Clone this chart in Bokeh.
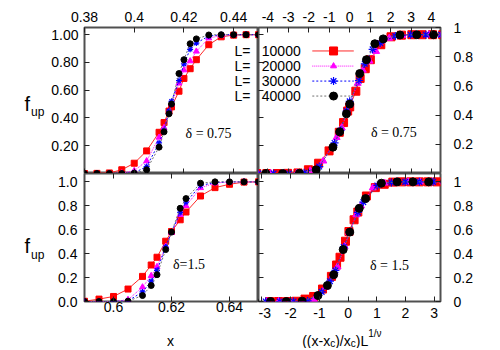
from bokeh.plotting import figure
from bokeh.models import Range1d, LinearAxis, FixedTicker, NumeralTickFormatter, Label
from bokeh.layouts import column, row
from bokeh.embed import file_html
from bokeh.resources import INLINE

# ---------------- data ----------------
sizes = ["10000", "20000", "30000", "40000"]

# delta = 0.75
top_x = [0.365, 0.37, 0.375, 0.38, 0.385, 0.39, 0.395, 0.40, 0.405, 0.41, 0.412, 0.414, 0.415,
         0.418, 0.42, 0.4225, 0.425, 0.43, 0.435, 0.44, 0.445, 0.45, 0.455, 0.46, 0.465]
top_f_10000 = [0, 0, 0, 0, 0.001, 0.004, 0.027, 0.074, 0.163, 0.297, 0.367, 0.45, 0.48,
               0.593, 0.685, 0.755, 0.82, 0.928, 0.985, 0.997, 1, 1, 1, 1, 1]
top_f_20000 = [0, 0, 0, 0, 0, 0, 0.003, 0.02, 0.09, 0.26, 0.33, 0.44, 0.50,
               0.65, 0.745, 0.81, 0.88, 0.975, 0.995, 1, 1, 1, 1, 1, 1]
top_f_30000 = [0, 0, 0, 0, 0, 0, 0, 0.005, 0.05, 0.22, 0.31, 0.45, 0.52,
               0.67, 0.79, 0.895, 0.94, 0.99, 1, 1, 1, 1, 1, 1, 1]
top_f_40000 = [0, 0, 0, 0, 0, 0, 0, 0.002, 0.027, 0.19, 0.30, 0.43, 0.50,
               0.72, 0.82, 0.935, 0.97, 0.998, 1, 1, 1, 1, 1, 1, 1]
top_s_10000 = [-5.06, -4.55, -4.05, -3.54, -3.04, -2.53, -2.02, -1.52, -1.01, -0.51, -0.30, -0.10, 0.0,
               0.30, 0.51, 0.76, 1.01, 1.52, 2.02, 2.53, 3.04, 3.54, 4.05, 4.55, 5.06]
top_s_20000 = [-6.45, -5.80, -5.16, -4.51, -3.87, -3.22, -2.58, -1.93, -1.29, -0.64, -0.39, -0.13, 0.0,
               0.39, 0.64, 0.97, 1.29, 1.93, 2.58, 3.22, 3.87, 4.51, 5.16, 5.80, 6.45]
top_s_30000 = [-7.45, -6.70, -5.96, -5.21, -4.47, -3.72, -2.98, -2.23, -1.49, -0.74, -0.45, -0.15, 0.0,
               0.45, 0.74, 1.12, 1.49, 2.23, 2.98, 3.72, 4.47, 5.21, 5.96, 6.70, 7.45]
top_s_40000 = [-8.20, -7.38, -6.56, -5.74, -4.92, -4.10, -3.28, -2.46, -1.64, -0.82, -0.49, -0.16, 0.0,
               0.49, 0.82, 1.23, 1.64, 2.46, 3.28, 4.10, 4.92, 5.74, 6.56, 7.38, 8.20]

# delta = 1.5
bot_x = [0.575, 0.58, 0.585, 0.59, 0.595, 0.60, 0.605, 0.61, 0.613, 0.615, 0.618, 0.62,
         0.623, 0.625, 0.63, 0.635, 0.64, 0.645, 0.65, 0.655, 0.66, 0.665, 0.67]
bot_f_10000 = [0, 0, 0, 0.002, 0.02, 0.042, 0.104, 0.21, 0.305, 0.37, 0.504, 0.585,
               0.683, 0.748, 0.882, 0.952, 0.98, 0.998, 1, 1, 1, 1, 1]
bot_f_20000 = [0, 0, 0, 0, 0, 0, 0.015, 0.12, 0.215, 0.29, 0.46, 0.575,
               0.725, 0.80, 0.95, 0.99, 1, 1, 1, 1, 1, 1, 1]
bot_f_30000 = [0, 0, 0, 0, 0, 0, 0.005, 0.08, 0.17, 0.26, 0.455, 0.58,
               0.745, 0.83, 0.97, 0.995, 1, 1, 1, 1, 1, 1, 1]
bot_f_40000 = [0, 0, 0, 0, 0, 0, 0.003, 0.05, 0.134, 0.224, 0.434, 0.58,
               0.779, 0.86, 0.989, 1, 1, 1, 1, 1, 1, 1, 1]
bot_s_10000 = [-2.73, -2.42, -2.11, -1.81, -1.50, -1.20, -0.89, -0.58, -0.40, -0.28, -0.09, 0.03,
               0.21, 0.34, 0.64, 0.95, 1.26, 1.56, 1.87, 2.18, 2.48, 2.79, 3.10]
bot_s_20000 = [-3.65, -3.24, -2.83, -2.42, -2.01, -1.60, -1.19, -0.78, -0.53, -0.37, -0.12, 0.04,
               0.29, 0.45, 0.86, 1.27, 1.68, 2.09, 2.50, 2.91, 3.32, 3.73, 4.14]
bot_s_30000 = [-4.33, -3.84, -3.35, -2.87, -2.38, -1.90, -1.41, -0.92, -0.63, -0.44, -0.15, 0.05,
               0.34, 0.53, 1.02, 1.51, 1.99, 2.48, 2.96, 3.45, 3.94, 4.42, 4.91]
bot_s_40000 = [-4.90, -4.35, -3.80, -3.25, -2.70, -2.15, -1.60, -1.05, -0.72, -0.50, -0.17, 0.06,
               0.39, 0.61, 1.16, 1.71, 2.26, 2.81, 3.36, 3.91, 4.46, 5.01, 5.56]

top_x_ticks = [0.38, 0.40, 0.42, 0.44]
bot_x_ticks = [0.60, 0.62, 0.64]
top_s_ticks = [-4, -3, -2, -1, 0, 1, 2, 3, 4]
bot_s_ticks = [-3, -2, -1, 0, 1, 2, 3]
left_top_ticks = [0.2, 0.4, 0.6, 0.8, 1.0]
left_bot_ticks = [0.0, 0.2, 0.4, 0.6, 0.8, 1.0]

# ---------------- styles ----------------
FONT = "Liberation Sans"
SERIF = "Liberation Serif"
series_style = [
    # marker, marker colour, line colour, dash
    ("square", "#ff0000", "#ff2a2a", "solid"),
    ("triangle", "#ff00ff", "#ff00ff", "1 1"),
    ("asterisk", "#0000ff", "#0000ff", "2 2"),
    ("circle", "#000000", "#707070", "2 2"),
]


def make_fig(w, h, xr, yr, ml, mr, mt, mb, outline=True):
    p = figure(width=w, height=h, x_range=Range1d(*xr), y_range=Range1d(*yr),
               output_backend="svg", toolbar_location=None,
               x_axis_location=None, y_axis_location=None,
               min_border_left=ml, min_border_right=mr,
               min_border_top=mt, min_border_bottom=mb)
    p.xgrid.visible = False
    p.ygrid.visible = False
    if outline:
        p.outline_line_color = "#505050"
        p.outline_line_width = 2
    else:
        p.outline_line_color = None
    p.background_fill_color = "white"
    p.border_fill_color = "white"
    return p


def add_axis(p, side, ticks, fmt=None, standoff=5, y_range_name=None):
    kw = {}
    if y_range_name:
        kw["y_range_name"] = y_range_name
    ax = LinearAxis(ticker=FixedTicker(ticks=ticks), **kw)
    ax.major_tick_in = 5
    ax.major_tick_out = 0
    ax.minor_tick_line_color = None
    ax.axis_line_color = None
    ax.major_tick_line_color = "#222222"
    ax.major_tick_line_width = 1
    if fmt is not None:
        ax.formatter = NumeralTickFormatter(format=fmt)
        ax.major_label_text_font = FONT
        ax.major_label_text_font_size = "14px"
        ax.major_label_text_color = "black"
        ax.major_label_standoff = standoff
    else:
        ax.major_label_text_font_size = "0px"
        ax.major_label_text_color = None
        ax.major_label_text_alpha = 0
        ax.major_label_standoff = 0
    p.add_layout(ax, side)
    return ax


def draw_series(p, xs, ys, style, size):
    marker, mcol, lcol, dash = style
    p.line(xs, ys, line_color=lcol, line_width=1, line_dash=dash)
    if marker == "asterisk":
        p.scatter(xs, ys, marker=marker, size=size, line_color=mcol, line_width=1.2)
    else:
        p.scatter(xs, ys, marker=marker, size=size, fill_color=mcol, line_color=mcol)


def add_text(p, x, y, text, size="14px", font=FONT, align="left", baseline="alphabetic"):
    p.add_layout(Label(x=x, y=y, text=text, text_font=font, text_font_size=size,
                       text_align=align, text_baseline=baseline, text_color="black"))


TOP_Y = (0, 1.052)
BOT_Y = (0, 1.07)
H_PANELS = 323

# ---------------- left strip (y titles f_up) ----------------
ls = make_fig(46, H_PANELS, (0, 46), (0, H_PANELS), 0, 0, 0, 0, outline=False)
add_text(ls, 24, H_PANELS - 103, "f", "20px")
add_text(ls, 30.5, H_PANELS - 111, "up", "12px")
add_text(ls, 24, H_PANELS - 245, "f", "20px")
add_text(ls, 30.5, H_PANELS - 254, "up", "12px")

# ---------------- top-left ----------------
tl = make_fig(212, 173, (0.38, 0.45), TOP_Y, 38, 0, 27, 0)
add_axis(tl, "above", top_x_ticks, "0.0[0]", standoff=6)
add_axis(tl, "below", top_x_ticks)
add_axis(tl, "left", left_top_ticks, "0.00", standoff=6)
tl_f = [top_f_10000, top_f_20000, top_f_30000, top_f_40000]
for ys, st in zip(tl_f, series_style):
    draw_series(tl, top_x, ys, st, 6)
add_text(tl, 0.4299, 0.288, "δ = 0.75", "14px", SERIF, "center", "middle")
legend_rows = [0.883, 0.774, 0.666, 0.558]
for yy in legend_rows:
    add_text(tl, 0.4468, yy, "L=", "14px", FONT, "right", "middle")

# ---------------- top-right ----------------
tr = make_fig(222, 173, (-4.46, 4.44), TOP_Y, 0, 40, 27, 0)
tr.extra_y_ranges = {"y2": Range1d(0, 1.0)}
add_axis(tr, "above", top_s_ticks, "0", standoff=6)
add_axis(tr, "below", top_s_ticks)
add_axis(tr, "left", left_top_ticks)
add_axis(tr, "right", left_top_ticks, "0.[0]", standoff=13, y_range_name="y2")
tr_s = [top_s_10000, top_s_20000, top_s_30000, top_s_40000]
for xs, ys, st in zip(tr_s, tl_f, series_style):
    draw_series(tr, xs, ys, st, 8 if st[0] != "triangle" else 7)
add_text(tr, 2.16, 0.293, "δ = 0.75", "14px", SERIF, "center", "middle")
for yy, lab, st in zip(legend_rows, sizes, series_style):
    add_text(tr, -4.30, yy, lab, "14px", FONT, "left", "middle")
    tr.line([-1.83, 0.20], [yy, yy], line_color=st[2], line_width=1, line_dash=st[3])
    if st[0] == "asterisk":
        tr.scatter([-0.79], [yy], marker=st[0], size=8, line_color=st[1], line_width=1.2)
    else:
        tr.scatter([-0.79], [yy], marker=st[0], size=8 if st[0] != "triangle" else 6,
                   fill_color=st[1], line_color=st[1])

# ---------------- bottom-left ----------------
bl = make_fig(212, 150, (0.59, 0.65), BOT_Y, 38, 0, 0, 22)
add_axis(bl, "below", bot_x_ticks, "0.0[0]", standoff=0)
add_axis(bl, "above", bot_x_ticks)
add_axis(bl, "left", left_bot_ticks, "0.0", standoff=7)
bl_f = [bot_f_10000, bot_f_20000, bot_f_30000, bot_f_40000]
for ys, st in zip(bl_f, series_style):
    draw_series(bl, bot_x, ys, st, 6)
add_text(bl, 0.626, 0.312, "δ=1.5", "14px", SERIF, "center", "middle")

# ---------------- bottom-right ----------------
br = make_fig(222, 150, (-3.12, 3.22), BOT_Y, 0, 40, 0, 22)
add_axis(br, "below", bot_s_ticks, "0", standoff=6)
add_axis(br, "above", bot_s_ticks)
add_axis(br, "left", left_bot_ticks)
add_axis(br, "right", left_bot_ticks, "0.[0]", standoff=13)
br_s = [bot_s_10000, bot_s_20000, bot_s_30000, bot_s_40000]
for xs, ys, st in zip(br_s, bl_f, series_style):
    draw_series(br, xs, ys, st, 8 if st[0] != "triangle" else 7)
add_text(br, 1.444, 0.303, "δ = 1.5", "14px", SERIF, "center", "middle")

# ---------------- bottom strip (x-axis titles) ----------------
bs = make_fig(480, 25, (0, 480), (0, 25), 0, 0, 0, 0, outline=False)
add_text(bs, 170, 8, "x", "14px", FONT, "center", "alphabetic")
add_text(bs, 301.7, 8, "((x-x", "14px")
add_text(bs, 329.7, 5.5, "c", "10px")
add_text(bs, 334.7, 8, ")/x", "14px")
add_text(bs, 350.3, 5.5, "c", "10px")
add_text(bs, 355.3, 8, ")L", "14px")
add_text(bs, 367.7, 15.5, "1/ν", "10px")

layout = column(row(ls, column(row(tl, tr), row(bl, br))), bs)
open("out.html", "w").write(file_html(layout, INLINE))
